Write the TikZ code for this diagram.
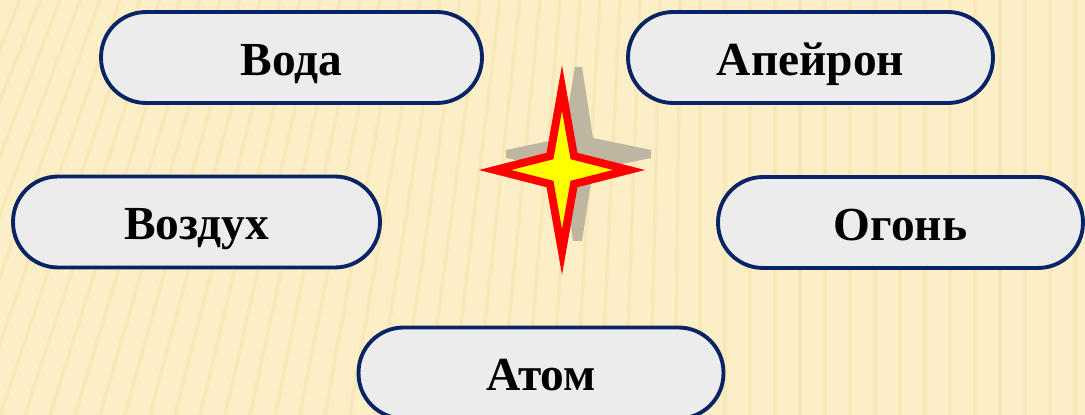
\documentclass[tikz,border=0pt]{standalone}
\usepackage{fontspec}
\setmainfont{Liberation Serif}
\definecolor{BackClr}{RGB}{252,238,198}
\definecolor{StripeClr}{RGB}{243,223,165}
\definecolor{BoxClr}{RGB}{236,236,236}
\definecolor{EdgeClr}{RGB}{8,36,102}
\definecolor{ShadowClr}{RGB}{190,182,160}
\definecolor{StarClr}{RGB}{255,0,0}
\definecolor{CoreClr}{RGB}{255,255,0}

\begin{document}
\begin{tikzpicture}[x=0.02cm,y=-0.02cm,
  elem/.style={draw=EdgeClr,line width=2.2pt,fill=BoxClr,rounded corners=0.9cm,
    minimum height=1.82cm,minimum width=7.3cm,text height=20pt,text depth=0pt,
    font=\fontsize{27}{32}\selectfont\bfseries}]
\clip (0,0) rectangle (1085,415);
\fill[BackClr] (0,0) rectangle (1085,415);

% stripes of the background
\foreach \x in {-150,-125,...,1100}{
  \pgfmathsetmacro{\slant}{max(0,140-0.2*\x)}
  \draw[StripeClr,line width=2pt,opacity=.4] (\x,415) -- (\x+\slant,0);
}

\node[elem,minimum width=7.62cm] (voda) at (291.5,57.5) {Вода};
\node[elem] (apeiron) at (810.5,57.5) {Апейрон};
\node[elem,minimum width=7.34cm] (vozduh) at (196.5,222) {Воздух};
\node[elem] (ogon) at (900.5,222.5) {Огонь};
\node[elem] (atom) at (541,373) {Атом};

% star with its shadow
\fill[ShadowClr] (575,67) -- (582,67) -- (593,138) -- (651,150) -- (651,158)
  -- (593,170) -- (582,241) -- (573,241) -- (563,170) -- (506,158)
  -- (506,150) -- (563,138) -- cycle;
\draw[StarClr,fill=CoreClr,line width=4.5pt,miter limit=10]
  (562,88) -- (574,156) -- (629,170) -- (574,184) -- (562,252)
  -- (550,184) -- (495,170) -- (550,156) -- cycle;

\end{tikzpicture}
\end{document}
